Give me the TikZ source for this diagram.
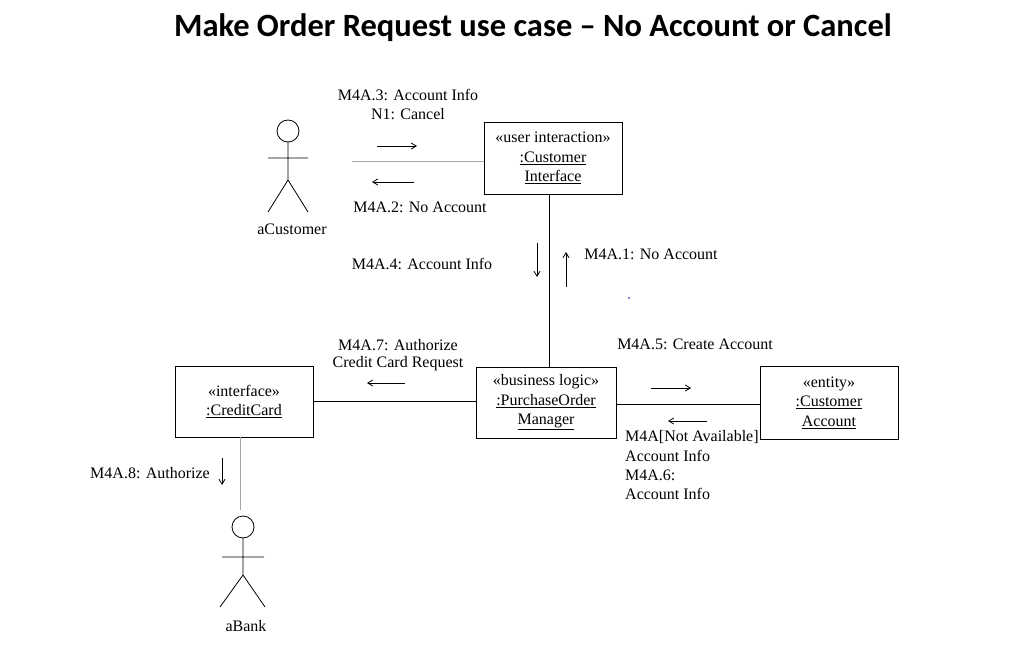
\documentclass[tikz,border=0pt]{standalone}
\usepackage{fontspec}
\setmainfont{Liberation Serif}
\newfontfamily\titlefont{Carlito}
\usetikzlibrary{arrows.meta}
\begin{document}
\begin{tikzpicture}[x=1pt,y=-1pt,
  lbl/.style={font=\fontsize{16}{19.5}\selectfont,inner sep=0pt},
  box/.style={draw,line width=0.8pt,inner sep=0pt},
  msg/.style={-{Straight Barb[length=5pt,width=6pt]},line width=0.8pt},
  link/.style={draw=gray!70,line width=0.8pt},
  act/.style={line width=0.8pt}]
\useasboundingbox (0,0) rectangle (1024,658);
\node[inner sep=0pt] (title) at (533,28) {\titlefont\bfseries\fontsize{32.5}{36}\selectfont Make Order Request use case – No Account or Cancel};
% actor aCustomer
\draw[act] (288,131) circle (11);
\draw[act] (288,142) -- (288,180) (268,158) -- (308,158) (268,212) -- (288,180) -- (308,212);
\coordinate (cust) at (352,161);
\node[lbl] (custl) at (292,229) {aCustomer};
% boxes
\node[box,minimum width=138,minimum height=72] (ci) at (553,158) {};
\node[lbl,align=center] at (ci) {«user interaction»\\\underline{:Customer}\\\underline{Interface}};
\node[box,minimum width=140,minimum height=71] (pom) at (546,402.5) {};
\node[lbl,align=center] at (pom) {«business logic»\\\underline{:PurchaseOrder}\\\underline{Manager}};
\node[box,minimum width=138,minimum height=71] (cc) at (244,401.5) {};
\node[lbl,align=center] at (cc) {«interface»\\\underline{:CreditCard}};
\node[box,minimum width=138,minimum height=73] (ca) at (829,402.5) {};
\node[lbl,align=center] at (ca) {«entity»\\\underline{:Customer}\\\underline{Account}};
% links
\draw[link] (cust) -- (ci.west |- cust);
\draw[line width=0.8pt] (ci.south -| 549,0) -- (pom.north -| 549,0);
\draw[line width=0.8pt] (cc.east) -- (pom.west |- cc.east);
\draw[line width=0.8pt] (pom.east |- 0,404) -- (ca.west |- 0,404);
\coordinate (bank) at (240,510);
\draw[link] (cc.south -| bank) -- (bank);
% messages
\draw[msg] (377,146) -- (417,146);
\draw[msg] (414,182) -- (372,182);
\node[lbl] at (408,95) {M4A.3: Account Info};
\node[lbl] at (408,114) {N1: Cancel};
\node[lbl] at (420,207) {M4A.2: No Account};
\draw[msg] (537,243) -- (537,277);
\draw[msg] (566,287) -- (566,252);
\node[lbl] at (422,264) {M4A.4: Account Info};
\node[lbl] at (651,254) {M4A.1: No Account};
\fill[blue!70!black] (629,298) circle (0.9);
\draw[msg] (405,383) -- (367,383);
\node[lbl] at (398,345) {M4A.7: Authorize};
\node[lbl] at (398,364) {Credit Card Request};
\draw[msg] (651,388) -- (691,388);
\draw[msg] (707,421) -- (668,421);
\node[lbl] at (695,344) {M4A.5: Create Account};
\node[lbl,anchor=west] at (625,437) {M4A[Not Available]};
\node[lbl,anchor=west] at (625,456) {Account Info};
\node[lbl,anchor=west] at (625,475) {M4A.6:};
\node[lbl,anchor=west] at (625,494) {Account Info};
\draw[msg] (222,458) -- (222,485);
\node[lbl] at (150,473) {M4A.8: Authorize};
% actor aBank
\draw[act] (243,527) circle (11);
\draw[act] (243,538) -- (243,575) (222,557) -- (264,557) (220,607) -- (243,575) -- (265,607);
\node[lbl] at (246,626) {aBank};
\end{tikzpicture}
\end{document}
